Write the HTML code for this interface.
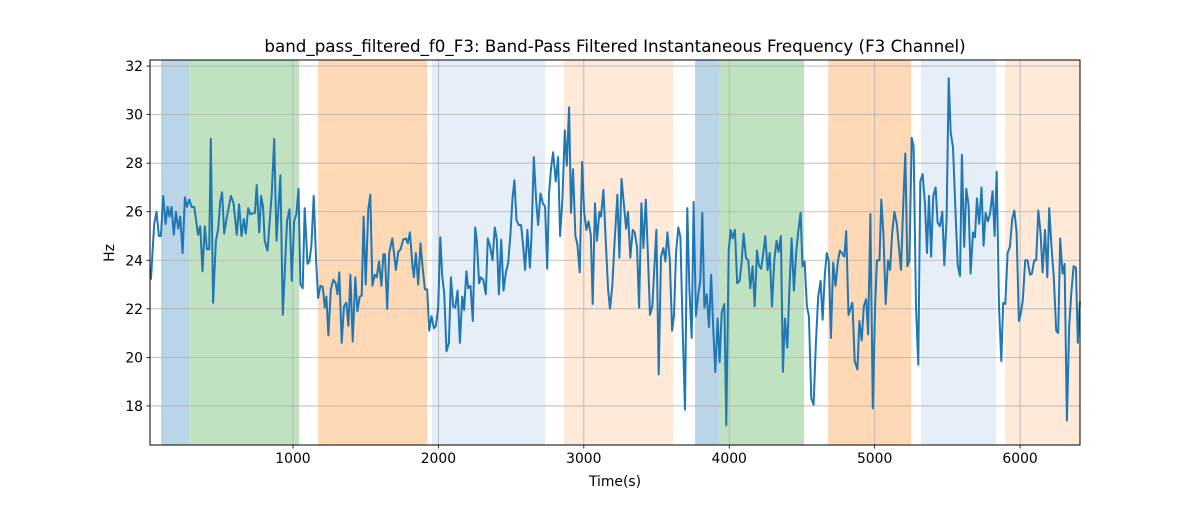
<!DOCTYPE html>
<html><head><meta charset="utf-8"><style>
body{margin:0;background:#fff;}
svg text{font-family:"DejaVu Sans","Liberation Sans",sans-serif;fill:#000;}
</style></head><body>
<svg id="chart" width="1200" height="500" viewBox="0 0 1200 500" xmlns="http://www.w3.org/2000/svg">
<rect width="1200" height="500" fill="#fff"/>
<g id="spans"></g>
<g id="grid"></g>
<g id="series"></g>
<rect x="150" y="60" width="930" height="385" fill="none" stroke="#000" stroke-width="1"/>
<g id="xticks"></g>
<g id="yticks"></g>
<text x="615" y="52" font-size="16.7" text-anchor="middle">band_pass_filtered_f0_F3: Band-Pass Filtered Instantaneous Frequency (F3 Channel)</text>
<text x="615" y="486" font-size="13.9" text-anchor="middle">Time(s)</text>
<text x="114" y="253" font-size="13.9" text-anchor="middle" transform="rotate(-90 114 253)">Hz</text>
</svg>
<script>
const times=[23,46,62,78,92,108,124,138,151,165,181,195,211,225,241,257,271,287,303,321,348,362,378,394,408,424,435,451,470,486,500,513,527,543,573,591,614,630,646,662,676,692,706,738,751,768,781,795,806,825,854,871,887,914,930,960,976,992,1008,1024,1038,1051,1067,1081,1100,1113,1127,1143,1159,1173,1189,1205,1219,1230,1244,1260,1278,1294,1306,1319,1335,1351,1367,1381,1395,1411,1429,1443,1459,1473,1486,1500,1518,1532,1546,1562,1576,1592,1608,1622,
1632,1648,1662,1683,1708,1724,1740,1758,1777,1790,1804,1822,1832,1845,1861,1877,1891,1907,1923,1937,1953,1969,1983,1999,2013,2026,2040,2056,2072,2086,2102,2116,2132,2148,2164,2177,2193,2205,2221,2237,2253,2264,2280,2292,2308,2326,2340,2356,2372,2388,2402,2416,2432,2448,2464,2480,2496,2509,2523,2537,2553,2569,2583,2596,2612,2629,2640,2656,2672,2686,2702,2718,2734,2748,2761,2775,2789,2807,2823,2837,2853,2869,2883,2899,2912,2926,2942,2956,2972,2988,3002,3018,3032,3048,3061,3077,3091,3107,3118,3135,3151,3167,3180,3196,3210,
3231,3245,3259,3275,3291,3304,3320,3336,3350,3366,3380,3396,3410,3426,3442,3455,3471,3485,3499,3515,3531,3547,3561,3575,3591,3607,3620,3634,3650,3664,3680,3696,3712,3726,3742,3755,3771,3788,3801,3815,3829,3845,3861,3875,3891,3904,3920,3934,3948,3966,3980,3996,4010,4023,4039,4055,4071,4085,4099,4115,4131,4145,4161,4175,4191,4204,4220,4234,4248,4264,4278,4294,4310,4326,4339,4355,4369,4383,4399,4413,4429,4445,4461,4475,4491,4504,4518,4534,4548,4564,4580,4596,4612,4628,4642,4658,4671,4685,4699,4715,4731,4747,4761,4775,4791,4804,4820,
4847,4863,4881,4895,4911,4925,4941,4955,4971,4987,5003,5016,5033,5046,5060,5076,5092,5106,5120,5136,5152,5165,5181,5197,5211,5225,5239,5255,5268,5284,5300,5314,5330,5346,5360,5374,5388,5403,5419,5433,5449,5465,5479,5495,5509,5523,5539,5555,5571,5587,5600,5616,5630,5646,5660,5676,5690,5703,5719,5735,5749,5763,5779,5793,5811,5825,5839,5855,5871,5884,5898,5914,5930,5946,5960,5976,5992,6003,6019,6035,6051,6068,6081,6097,6111,6125,6141,6155,6171,6187,6200,6216,6232,6248,6262,6276,6292,6306,6322,6338,6352,6368,6384,6397,6411];
const values=[23.2,25.5,26.0,25.0,25.0,26.65,25.5,26.2,25.8,26.2,25.05,26.0,25.3,25.8,24.3,26.6,26.2,26.5,26.2,26.2,25.05,25.4,23.55,25.4,24.45,24.45,29.0,22.25,24.8,25.3,26.4,26.8,25.1,25.7,26.65,26.35,25.05,26.3,25.0,25.7,25.1,26.15,25.9,25.95,27.1,25.15,26.65,26.2,24.8,24.4,26.7,29.0,24.8,27.5,21.75,25.65,26.1,23.15,25.6,25.9,26.95,23.0,22.85,26.15,23.85,23.95,24.6,26.65,24.0,22.45,22.95,22.9,22.05,22.5,20.9,22.8,23.2,23.05,22.6,23.5,20.6,22.1,22.25,21.3,23.4,20.65,23.3,21.9,22.5,22.55,25.8,23.0,26.1,26.7,22.95,23.4,23.3,23.95,22.95,24.25,
24.25,22.0,24.3,24.9,23.6,24.35,24.45,24.85,24.9,24.7,25.15,23.75,23.3,24.3,23.0,24.7,23.75,22.8,22.8,21.1,21.7,21.2,21.3,22.05,24.95,23.35,22.65,20.25,20.6,23.3,22.1,22.05,22.75,20.6,22.5,21.95,23.55,22.85,22.95,21.5,25.35,24.8,23.05,23.3,23.2,22.6,24.9,24.55,24.0,25.35,24.85,22.6,24.85,22.75,23.5,23.9,25.1,26.5,27.3,25.65,25.45,25.45,24.55,23.6,25.25,23.7,25.0,28.25,26.5,25.45,26.75,26.35,26.2,23.65,26.75,27.8,28.45,27.25,28.25,25.0,26.5,29.35,27.9,30.3,25.95,27.75,25.0,24.65,23.5,28.05,26.0,25.25,25.6,25.05,22.2,26.35,24.8,26.0,25.8,26.9,24.75,22.8,22.0,22.95,24.55,
26.7,24.1,27.35,26.35,25.3,26.0,24.1,25.25,25.15,24.55,22.05,26.35,24.5,26.5,24.0,21.75,22.1,23.65,25.25,19.3,24.15,24.5,23.95,25.15,24.0,21.1,21.75,24.3,25.35,24.95,21.1,17.85,26.15,22.8,20.8,26.4,21.7,22.65,23.15,25.95,22.05,22.6,21.25,23.4,21.05,19.4,21.6,19.8,21.85,22.2,17.2,24.4,25.25,24.9,25.25,23.05,23.15,23.9,25.1,24.1,24.0,22.85,23.75,22.1,24.4,23.8,23.65,24.3,25.0,23.6,24.3,22.1,24.0,24.8,24.35,25.0,19.4,21.6,20.4,22.7,24.9,22.75,24.4,25.2,25.95,23.75,23.95,22.1,21.7,18.3,18.05,20.6,22.5,23.15,21.55,23.45,24.3,23.95,20.8,23.9,22.95,23.95,24.4,24.3,24.15,25.2,21.75,
22.25,19.85,19.5,21.5,20.7,22.1,22.4,20.95,25.9,17.9,22.1,24.0,24.0,26.5,25.1,22.2,24.0,23.6,25.1,26.0,25.5,24.65,23.6,26.35,28.4,23.75,24.0,29.05,28.7,22.05,19.7,27.25,27.55,26.3,24.3,26.65,24.15,26.65,27.0,25.55,25.4,26.0,23.8,25.7,31.5,29.25,28.65,26.1,23.8,23.35,28.35,24.55,26.95,26.25,23.45,25.15,24.95,26.55,25.5,27.0,24.6,25.95,25.6,25.9,26.85,25.0,27.65,22.1,19.85,22.25,22.2,24.3,24.55,25.7,26.05,25.15,21.5,21.75,22.35,24.0,24.0,23.4,23.45,24.0,24.0,26.05,25.1,23.5,25.25,23.3,26.15,24.55,23.3,21.1,21.0,24.9,23.45,23.85,17.4,21.3,22.65,23.75,23.7,20.6,22.3];
const spanStarts=[93,286,1173,1956,2864,3765,3930,4680,5318,5897];
const spanEnds=[286,1042,1922,2734,3614,3930,4515,5250,5834,6412];
const spanKinds=["blue","green","orange","lightblue","lightorange","blue","green","orange","lightblue","lightorange"];
const xTicks=[1000,2000,3000,4000,5000,6000];
const yTicks=[18,20,22,24,26,28,30,32];

const NS="http://www.w3.org/2000/svg";
const L=150,R=1080,T=60,B=445,X0=17,X1=6412,Y0=16.39,Y1=32.25;
const xs=v=>L+(v-X0)/(X1-X0)*(R-L);
const ys=v=>B-(v-Y0)/(Y1-Y0)*(B-T);
const colors={blue:"#bad4e8",green:"#c0e2c0",orange:"#ffd8b6",lightblue:"#e6eef8",lightorange:"#ffeada"};
function mk(tag,attrs,parent){const e=document.createElementNS(NS,tag);for(const k in attrs)e.setAttribute(k,attrs[k]);parent.appendChild(e);return e;}
const spans=document.getElementById('spans');
spanStarts.forEach((s,i)=>{
  const a=Math.max(xs(s),L),b=Math.min(xs(spanEnds[i]),R);
  const r=mk('rect',{x:a,y:T,width:b-a,height:B-T,fill:colors[spanKinds[i]]},spans);
  
  
});
const grid=document.getElementById('grid'),xt=document.getElementById('xticks'),yt=document.getElementById('yticks');
xTicks.forEach(t=>{
  const x=xs(t);
  const g=mk('line',{x1:x,x2:x,y1:T,y2:B,stroke:"#b0b0b0","stroke-width":0.8},grid);
  
  
  mk('line',{x1:x,x2:x,y1:B,y2:B+3.5,stroke:"#000","stroke-width":0.8},xt);
  const tx=mk('text',{x:x,y:B+18,"font-size":13.9,"text-anchor":"middle"},xt);
  tx.textContent=t;
  
  
});
yTicks.forEach(t=>{
  const y=ys(t);
  const g=mk('line',{x1:L,x2:R,y1:y,y2:y,stroke:"#b0b0b0","stroke-width":0.8},grid);
  
  
  mk('line',{x1:L-3.5,x2:L,y1:y,y2:y,stroke:"#000","stroke-width":0.8},yt);
  const tx=mk('text',{x:L-7,y:y+5,"font-size":13.9,"text-anchor":"end"},yt);
  tx.textContent=t;
  
  
});
const d=times.map((t,i)=>(i?'L':'M')+xs(t).toFixed(1)+','+ys(values[i]).toFixed(1)).join('');
const p=mk('path',{d:d,fill:"none",stroke:"#1f77b4","stroke-width":2,"stroke-linejoin":"round"},document.getElementById('series'));


</script>
</body></html>
